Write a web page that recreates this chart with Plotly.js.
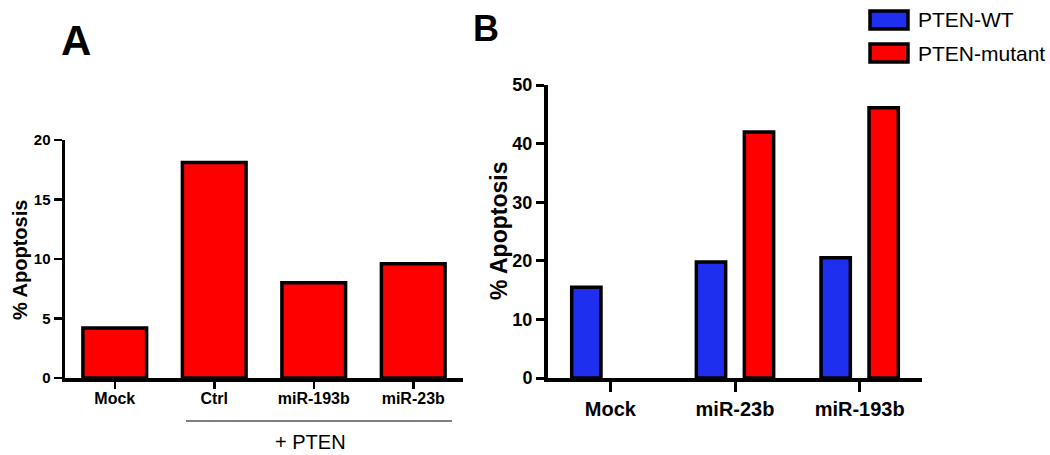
<!DOCTYPE html>
<html>
<head>
<meta charset="utf-8">
<script src="https://cdn.plot.ly/plotly-3.0.1.min.js"></script>
<style>
  html, body { margin: 0; padding: 0; background: #fff; }
  #plotly_div { width: 1050px; height: 455px; }
</style>
</head>
<body>
<div id="plotly_div"></div>
<script>
// panel A data
const catsA = ['Mock', 'Ctrl', 'miR-193b', 'miR-23b'];
const apoptosisA = [4.2, 18.1, 8.0, 9.6];
const ticksA = [0, 5, 10, 15, 20];

// panel B data
const catsB = ['Mock', 'miR-23b', 'miR-193b'];
const ptenWT = [15.5, 19.8, 20.5];
const ptenMutant = [null, 42.0, 46.1];
const ticksB = [0, 10, 20, 30, 40, 50];

const W = 1050, H = 455;
const px = v => v / W;
const py = v => 1 - v / H;

const boldFont = 'Liberation Sans, Arial, sans-serif';

const data = [
    {
        x: catsA,
        y: apoptosisA,
        type: 'bar',
        xaxis: 'x',
        yaxis: 'y',
        width: 0.64,
        marker: { color: '#ff0000', line: { color: '#000', width: 3.5 } },
        showlegend: false
    },
    {
        x: catsB,
        y: ptenWT,
        type: 'bar',
        name: 'PTEN-WT',
        xaxis: 'x2',
        yaxis: 'y2',
        width: 0.235,
        offset: -0.31,
        marker: { color: '#1f2ff0', line: { color: '#000', width: 3.5 } },
        showlegend: false
    },
    {
        x: catsB,
        y: ptenMutant,
        type: 'bar',
        name: 'PTEN-mutant',
        xaxis: 'x2',
        yaxis: 'y2',
        width: 0.235,
        offset: 0.075,
        marker: { color: '#ff0000', line: { color: '#000', width: 3.5 } },
        showlegend: false
    }
];

const axisCommon = {
    showgrid: false,
    zeroline: false,
    showline: true,
    linecolor: '#000',
    ticks: 'outside',
    tickcolor: '#000',
    fixedrange: true
};

const layout = {
    width: W,
    height: H,
    margin: { l: 0, r: 0, t: 0, b: 0 },
    paper_bgcolor: '#fff',
    plot_bgcolor: '#fff',
    barmode: 'group',
    showlegend: false,
    font: { family: boldFont, color: '#000' },
    xaxis: Object.assign({}, axisCommon, {
        domain: [px(65), px(463)],
        anchor: 'y',
        range: [-0.5, 3.5],
        linewidth: 3.5,
        ticklen: 7,
        tickwidth: 2.5,
        ticklabelstandoff: -4,
        tickfont: { family: boldFont, size: 16, weight: 700 }
    }),
    yaxis: Object.assign({}, axisCommon, {
        domain: [1 - 378 / H, 1 - 140 / H],
        anchor: 'x',
        range: [0, 20],
        tickvals: ticksA,
        linewidth: 3.5,
        ticklen: 8,
        tickwidth: 2.5,
        tickfont: { family: boldFont, size: 15, weight: 700 }
    }),
    xaxis2: Object.assign({}, axisCommon, {
        domain: [px(548), px(922)],
        anchor: 'y2',
        range: [-0.5, 2.5],
        linewidth: 4,
        ticklen: 10,
        tickwidth: 3,
        tickfont: { family: boldFont, size: 20, weight: 700 }
    }),
    yaxis2: Object.assign({}, axisCommon, {
        domain: [1 - 378 / H, 1 - 85 / H],
        anchor: 'x2',
        range: [0, 50],
        tickvals: ticksB,
        linewidth: 4,
        ticklen: 8,
        tickwidth: 3,
        tickfont: { family: boldFont, size: 18, weight: 700 }
    }),
    shapes: [
        // bracket line under the +PTEN groups
        { type: 'line', xref: 'paper', yref: 'paper',
          x0: px(186), x1: px(452), y0: py(421), y1: py(421),
          line: { color: '#000', width: 1 } },
        // legend swatches
        { type: 'rect', xref: 'paper', yref: 'paper',
          x0: px(870), x1: px(908), y0: py(11), y1: py(29),
          fillcolor: '#1f2ff0', line: { color: '#000', width: 3.5 } },
        { type: 'rect', xref: 'paper', yref: 'paper',
          x0: px(870), x1: px(908), y0: py(44), y1: py(62),
          fillcolor: '#ff0000', line: { color: '#000', width: 3.5 } }
    ],
    annotations: [
        { text: '<b>A</b>', xref: 'paper', yref: 'paper', x: px(76), y: py(40),
          xanchor: 'center', yanchor: 'middle', showarrow: false,
          font: { size: 42, family: boldFont } },
        { text: '<b>B</b>', xref: 'paper', yref: 'paper', x: px(486), y: py(28),
          xanchor: 'center', yanchor: 'middle', showarrow: false,
          font: { size: 36, family: boldFont } },
        { text: '<b>% Apoptosis</b>', xref: 'paper', yref: 'paper', x: px(20), y: py(260),
          xanchor: 'center', yanchor: 'middle', textangle: -90, showarrow: false,
          font: { size: 20, family: boldFont } },
        { text: '<b>% Apoptosis</b>', xref: 'paper', yref: 'paper', x: px(499), y: py(231),
          xanchor: 'center', yanchor: 'middle', textangle: -90, showarrow: false,
          font: { size: 23, family: boldFont } },
        { text: '+ PTEN', xref: 'paper', yref: 'paper', x: px(310), y: py(442),
          xanchor: 'center', yanchor: 'middle', showarrow: false,
          font: { size: 20, family: boldFont } },
        { text: 'PTEN-WT', xref: 'paper', yref: 'paper', x: px(916), y: py(20),
          xanchor: 'left', yanchor: 'middle', showarrow: false,
          font: { size: 21, family: boldFont } },
        { text: 'PTEN-mutant', xref: 'paper', yref: 'paper', x: px(916), y: py(53),
          xanchor: 'left', yanchor: 'middle', showarrow: false,
          font: { size: 21, family: boldFont } }
    ]
};

Plotly.newPlot('plotly_div', data, layout, { displayModeBar: false, staticPlot: true });
</script>
</body>
</html>
